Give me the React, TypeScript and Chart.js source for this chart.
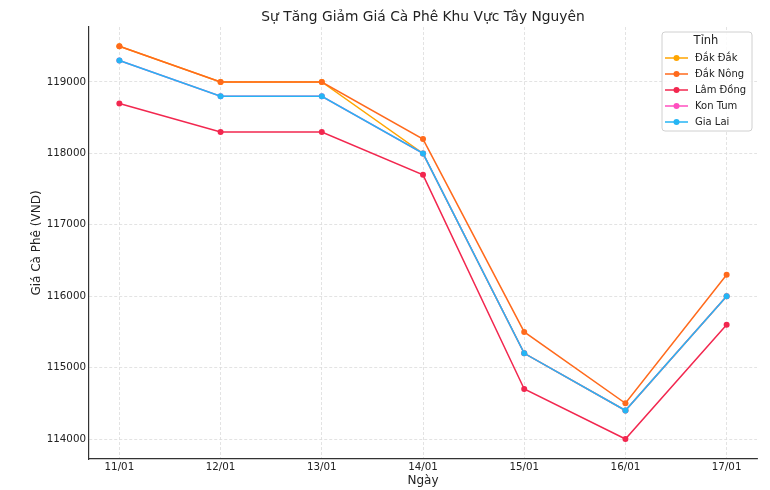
import React, { useEffect, useRef } from "react";
import { Chart, registerables } from "chart.js";

Chart.register(...registerables);

const dates = ["11/01", "12/01", "13/01", "14/01", "15/01", "16/01", "17/01"];
const provinces = ["Đắk Đắk", "Đắk Nông", "Lâm Đồng", "Kon Tum", "Gia Lai"];
const dakDak = [119500, 119000, 119000, 118000, 115200, 114400, 116000];
const dakNong = [119500, 119000, 119000, 118200, 115500, 114500, 116300];
const lamDong = [118700, 118300, 118300, 117700, 114700, 114000, 115600];
const konTum = [119300, 118800, 118800, 118000, 115200, 114400, 116000];
const giaLai = [119300, 118800, 118800, 118000, 115200, 114400, 116000];
const seriesValues = [dakDak, dakNong, lamDong, konTum, giaLai];
const colors = ["#FFA500", "#FF6A1C", "#F2274F", "#FF4FBF", "#25B5F4"];
const yTicks = [114000, 115000, 116000, 117000, 118000, 119000];

const TITLE = "Sự Tăng Giảm Giá Cà Phê Khu Vực Tây Nguyên";
const X_TITLE = "Ngày";
const Y_TITLE = "Giá Cà Phê (VND)";
const LEGEND_TITLE = "Tỉnh";
const FONT = "'DejaVu Sans', sans-serif";

const overlayPlugin = {
  id: "overlay",
  afterDraw(chart: any) {
    const { ctx, chartArea } = chart;
    const cx = (chartArea.left + chartArea.right) / 2;
    ctx.save();
    ctx.fillStyle = "#222";
    ctx.textAlign = "center";
    ctx.textBaseline = "middle";
    ctx.font = `13.8px ${FONT}`;
    ctx.fillText(TITLE, cx, 17);
    ctx.font = `12px ${FONT}`;
    ctx.fillText(X_TITLE, cx, 481);
    ctx.save();
    ctx.translate(37, (chartArea.top + chartArea.bottom) / 2);
    ctx.rotate(-Math.PI / 2);
    ctx.fillText(Y_TITLE, 0, 0);
    ctx.restore();

    // legend
    const bx = 662, by = 32, bw = 90, bh = 99;
    const r = 3;
    ctx.beginPath();
    ctx.moveTo(bx + r, by);
    ctx.lineTo(bx + bw - r, by);
    ctx.quadraticCurveTo(bx + bw, by, bx + bw, by + r);
    ctx.lineTo(bx + bw, by + bh - r);
    ctx.quadraticCurveTo(bx + bw, by + bh, bx + bw - r, by + bh);
    ctx.lineTo(bx + r, by + bh);
    ctx.quadraticCurveTo(bx, by + bh, bx, by + bh - r);
    ctx.lineTo(bx, by + r);
    ctx.quadraticCurveTo(bx, by, bx + r, by);
    ctx.closePath();
    ctx.fillStyle = "rgba(255,255,255,0.85)";
    ctx.fill();
    ctx.strokeStyle = "#d0d0d0";
    ctx.lineWidth = 1;
    ctx.stroke();

    ctx.fillStyle = "#222";
    ctx.font = `11.5px ${FONT}`;
    ctx.textAlign = "center";
    ctx.fillText(LEGEND_TITLE, 706, 41);
    ctx.font = `10px ${FONT}`;
    ctx.textAlign = "left";
    provinces.forEach((name, i) => {
      const y = 58 + i * 16;
      ctx.strokeStyle = colors[i];
      ctx.lineWidth = 1.5;
      ctx.beginPath();
      ctx.moveTo(665, y);
      ctx.lineTo(688, y);
      ctx.stroke();
      ctx.fillStyle = colors[i];
      ctx.beginPath();
      ctx.arc(676.5, y, 3, 0, Math.PI * 2);
      ctx.fill();
      ctx.fillStyle = "#222";
      ctx.fillText(name, 695, y + 0.5);
    });
    ctx.restore();
  },
};

export default function App() {
  const ref = useRef<HTMLCanvasElement>(null);
  useEffect(() => {
    if (!ref.current) return;
    const chart = new Chart(ref.current, {
      type: "line",
      data: {
        datasets: provinces.map((name, i) => ({
          label: name,
          data: seriesValues[i].map((v, j) => ({ x: j, y: v })),
          borderColor: colors[i],
          backgroundColor: colors[i],
          pointBackgroundColor: colors[i],
          pointBorderColor: colors[i],
          pointRadius: 3,
          pointBorderWidth: 0,
          borderWidth: 1.5,
          tension: 0,
          fill: false,
          order: provinces.length - i,
        })),
      },
      options: {
        responsive: false,
        animation: false,
        layout: { padding: { left: 0, right: 13, top: 27, bottom: 0 } },
        plugins: {
          legend: { display: false },
          title: { display: false },
          tooltip: { enabled: false },
        },
        scales: {
          x: {
            type: "linear",
            min: -0.3,
            max: 6.3,
            afterBuildTicks: (s: any) => {
              s.ticks = dates.map((_, i) => ({ value: i }));
            },
            afterFit: (s: any) => {
              s.height = 31;
            },
            ticks: {
              callback: (v: any) => dates[v] ?? "",
              font: { family: FONT, size: 10.3 },
              color: "#222",
              padding: 2,
              maxRotation: 0,
              autoSkip: false,
            },
            grid: { color: "#dcdcdc", lineWidth: 0.8, drawTicks: false },
            border: { display: true, color: "#333", width: 1.2, dash: [3, 2] },
          },
          y: {
            type: "linear",
            min: 113720,
            max: 119770,
            afterBuildTicks: (s: any) => {
              s.ticks = yTicks.map((v) => ({ value: v }));
            },
            afterFit: (s: any) => {
              s.width = 89;
            },
            ticks: {
              callback: (v: any) => String(v),
              font: { family: FONT, size: 10.3 },
              color: "#222",
              padding: 3,
            },
            grid: { color: "#dcdcdc", lineWidth: 0.8, drawTicks: false },
            border: { display: true, color: "#333", width: 1.2, dash: [3, 2] },
          },
        },
      },
      plugins: [overlayPlugin],
    });
    return () => chart.destroy();
  }, []);
  return (
    <div style={{ position: "fixed", left: 0, top: 0, width: 770, height: 490, background: "#fff" }}>
      <canvas ref={ref} width={770} height={490} style={{ width: 770, height: 490 }} />
    </div>
  );
}
